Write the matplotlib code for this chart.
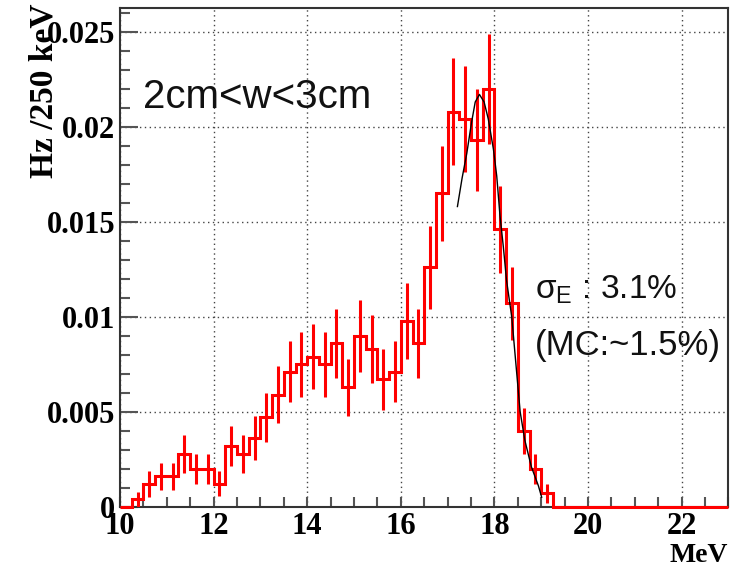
import numpy as np
import matplotlib.pyplot as plt
from matplotlib.ticker import MultipleLocator, FuncFormatter

plt.rcParams['mathtext.fontset'] = 'custom'
plt.rcParams['mathtext.rm'] = 'Liberation Sans'

# histogram, 250 keV bins from 10 to 23 MeV
bin_lo = 10.0
bin_width = 0.25
rate = [0.0, 0.0004, 0.0012, 0.0016, 0.0016, 0.0028, 0.0020, 0.0020,
        0.0012, 0.0032, 0.00275, 0.0036, 0.0047, 0.0059, 0.0071, 0.0075,
        0.0079, 0.0075, 0.0086, 0.0063, 0.0090, 0.0083, 0.0067, 0.0071,
        0.0098, 0.0086, 0.0126, 0.0165, 0.0208, 0.0204, 0.0193, 0.0220,
        0.0146, 0.0107, 0.0040, 0.0020, 0.0007,
        0.0, 0.0, 0.0, 0.0, 0.0, 0.0, 0.0, 0.0, 0.0, 0.0, 0.0, 0.0, 0.0, 0.0, 0.0]
rate_err = [0.0, 0.0004, 0.0007, 0.0007, 0.0007, 0.0010, 0.0008, 0.0008,
            0.00066, 0.00105, 0.0010, 0.00115, 0.0013, 0.0015, 0.0016, 0.0017,
            0.0017, 0.0017, 0.0018, 0.0015, 0.0019, 0.0018, 0.0016, 0.0016,
            0.0020, 0.0018, 0.0022, 0.0025, 0.0028, 0.0028, 0.0027, 0.0029,
            0.0023, 0.0019, 0.0012, 0.0008, 0.0005,
            0.0, 0.0, 0.0, 0.0, 0.0, 0.0, 0.0, 0.0, 0.0, 0.0, 0.0, 0.0, 0.0, 0.0, 0.0]

# fitted curve, points
fit_e = [17.21, 17.31, 17.41, 17.51, 17.59, 17.68, 17.78, 17.87, 17.98,
         18.05, 18.12, 18.19, 18.26, 18.37, 18.46, 18.55, 18.65, 18.79, 18.94, 19.01]
fit_rate = [0.0158, 0.0173, 0.0186, 0.0202, 0.0213, 0.0217, 0.0213, 0.0204, 0.0188,
            0.0174, 0.0153, 0.0137, 0.0119, 0.0100, 0.0075, 0.0050, 0.0035, 0.0021, 0.0011, 0.0005]

rate = np.array(rate)
rate_err = np.array(rate_err)
edges = bin_lo + bin_width * np.arange(len(rate) + 1)
centers = 0.5 * (edges[:-1] + edges[1:])
nz = rate > 0

fig = plt.figure(figsize=(7.38, 5.71), dpi=100)
ax = fig.add_axes([0.1626, 0.1126, 0.8244, 0.8734])

ax.stairs(rate, edges, color='red', lw=2.2, zorder=3, clip_on=False)
ax.errorbar(centers[nz], rate[nz], yerr=rate_err[nz], fmt='none',
            ecolor='red', elinewidth=2.2, zorder=3)
ax.plot(fit_e, fit_rate, color='black', lw=1, zorder=4)

ax.set_xlim(10, 23)
ax.set_ylim(0, 0.02625)
ax.xaxis.set_major_locator(MultipleLocator(2))
ax.xaxis.set_minor_locator(MultipleLocator(0.5))
ax.yaxis.set_major_locator(MultipleLocator(0.005))
ax.yaxis.set_minor_locator(MultipleLocator(0.001))
ax.yaxis.set_major_formatter(FuncFormatter(lambda v, p: '%g' % round(v, 4)))

ax.grid(True, which='major', ls=(0, (1, 2.5)), color='#444444', lw=1)
ax.set_axisbelow(True)
ax.tick_params(which='both', direction='in', color='#555555', width=1.5)
ax.tick_params(axis='y', which='major', length=13)
ax.tick_params(axis='y', which='minor', length=7)
ax.tick_params(axis='x', which='both', length=7)
ax.tick_params(axis='x', pad=4)
for lab in ax.get_xticklabels() + ax.get_yticklabels():
    lab.set_fontfamily('Liberation Serif')
    lab.set_fontweight('bold')
    lab.set_fontsize(22)
for sp in ax.spines.values():
    sp.set_color('#333333')
    sp.set_linewidth(1.5)

fig.text(44 / 738, 1 - 4 / 571, 'Hz /250 keV', rotation=90, ha='center', va='top',
         fontfamily='Liberation Serif', fontweight='bold', fontsize=24)
fig.text(728 / 738, 1 - 568 / 571, 'MeV', ha='right', va='bottom',
         fontfamily='Liberation Serif', fontweight='bold', fontsize=20)

ax.text(10.49, 0.02156, '2cm<w<3cm', fontfamily='Liberation Sans', fontsize=29,
        va='center', ha='left', color='#111111')
ax.text(18.87, 0.0114, 'σ$_\\mathrm{E}$ : 3.1%', fontfamily='Liberation Sans', fontsize=24,
        va='center', ha='left', color='#111111')
ax.text(18.87, 0.0085, '(MC:~1.5%)', fontfamily='Liberation Sans', fontsize=25,
        va='center', ha='left', color='#111111')

fig.savefig('out.png', dpi=100)
